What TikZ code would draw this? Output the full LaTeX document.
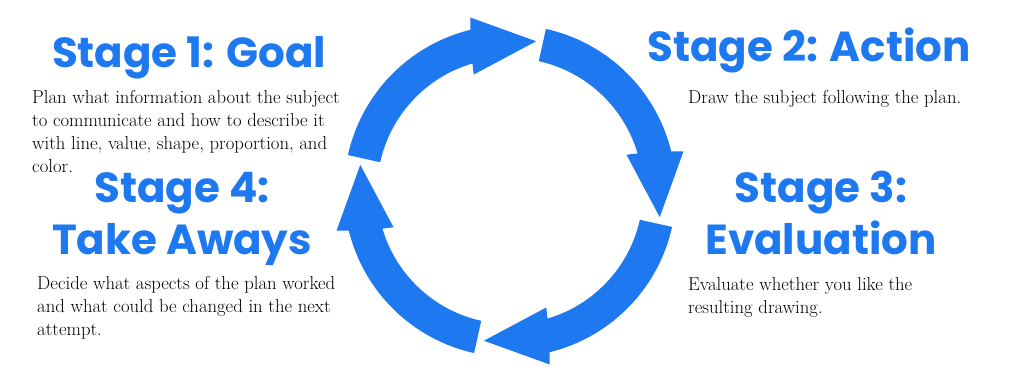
\documentclass[tikz,border=0pt]{standalone}
\usepackage{fontspec}
\newfontfamily\headfont{Poppins}
\definecolor{cycleblue}{RGB}{30,120,240}
\tikzset{
  heading/.style={anchor=base, inner sep=0pt, text=cycleblue,
    font=\headfont\bfseries\fontsize{42}{52}\selectfont},
  bodytext/.style={anchor=north west, inner sep=0pt, align=left, text=black,
    font=\fontsize{18.7}{23}\selectfont},
  cyclearrow/.style={fill=cycleblue, draw=none}
}
\begin{document}
\begin{tikzpicture}[x=1pt,y=1pt]
\useasboundingbox (0,0) rectangle (1024,382);
\fill[white] (0,0) rectangle (1024,382);
% cycle arrows
\coordinate (c) at (510,191);
\foreach \k in {0,...,3}{
  \begin{scope}[shift={(c)}, rotate=-90*\k]
    \fill[cyclearrow] (167.5:166) arc[start angle=167.5, end angle=103.8, radius=166]
      -- (102.9:178) -- (80.1:152) -- (107.3:122) -- (106.4:133)
      arc[start angle=106.4, end angle=167.5, radius=133] -- cycle;
  \end{scope}
}
% headings
\node[heading] (h1) at (189,314) {Stage 1: Goal};
\node[heading] (h2) at (809,320) {Stage 2: Action};
\node[heading] (h3a) at (821,179) {Stage 3:};
\node[heading] (h3b) at (821,127) {Evaluation};
\node[heading] (h4a) at (182,179) {Stage 4:};
\node[heading] (h4b) at (182,127) {Take Aways};
% body texts
\node[bodytext] (t1) at (32,295.1) {\strut Plan what information about the subject\\to communicate and how to describe it\\with line, value, shape, proportion, and\\color.};
\node[bodytext] (t2) at (688,295.1) {\strut Draw the subject following the plan.};
\node[bodytext] (t3) at (688,108.1) {\strut Evaluate whether you like the\\resulting drawing.};
\node[bodytext] (t4) at (37,109.1) {\strut Decide what aspects of the plan worked\\and what could be changed in the next\\attempt.};
\end{tikzpicture}
\end{document}
